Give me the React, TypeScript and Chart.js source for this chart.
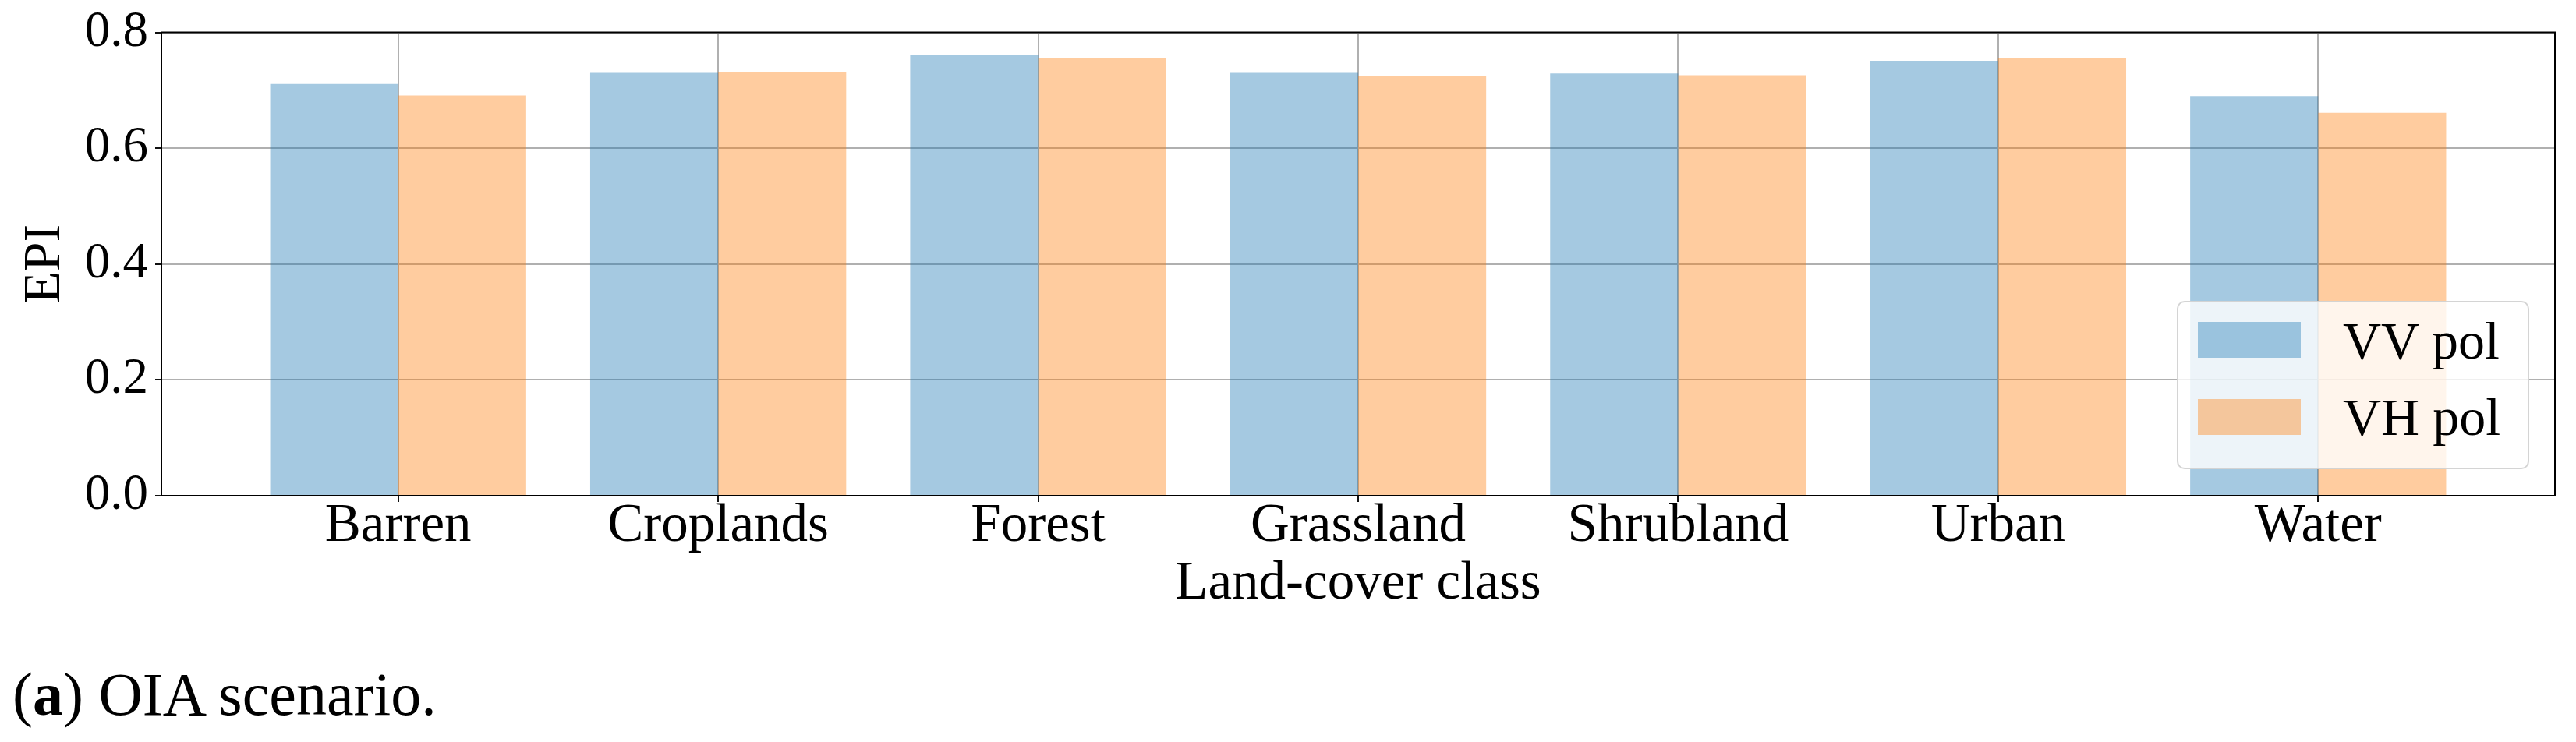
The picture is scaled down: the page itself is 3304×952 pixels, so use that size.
import React, { useEffect, useRef } from "react";
import { Chart, registerables } from "chart.js";

Chart.register(...registerables);

// ---- data ----
const categories = ["Barren", "Croplands", "Forest", "Grassland", "Shrubland", "Urban", "Water"];
const vvValues = [0.711, 0.730, 0.761, 0.730, 0.729, 0.751, 0.690];
const vhValues = [0.691, 0.731, 0.756, 0.725, 0.726, 0.755, 0.661];
const seriesLabels = ["VV pol", "VH pol"];
const yTickValues = [0.0, 0.2, 0.4, 0.6, 0.8];
const xAxisTitle = "Land-cover class";
const yAxisTitle = "EPI";
const captionLabel = "a";
const captionText = " OIA scenario.";

// ---- styles ----
const BLUE = "rgba(31,119,180,0.4)";
const ORANGE = "rgba(255,127,14,0.4)";
const seriesColors = [BLUE, ORANGE];
const FONT = "'Liberation Serif', 'Times New Roman', serif";
const CANVAS_W = 3304;
const CANVAS_H = 800;

export default function App() {
  const ref = useRef<HTMLCanvasElement | null>(null);

  useEffect(() => {
    if (!ref.current) return;
    const framePlugin = {
      id: "frame",
      afterDraw(chart: any) {
        const { ctx, chartArea: a } = chart;
        ctx.save();
        ctx.strokeStyle = "#000";
        ctx.lineWidth = 2;
        ctx.strokeRect(a.left, a.top, a.right - a.left, a.bottom - a.top);
        ctx.restore();
      },
    };

    const chart = new Chart(ref.current, {
      type: "bar",
      data: {
        datasets: [
          {
            label: seriesLabels[0],
            data: vvValues.map((y, i) => ({ x: i, y })),
            backgroundColor: BLUE,
            borderWidth: 0,
            categoryPercentage: 0.8,
            barPercentage: 1.0,
          },
          {
            label: seriesLabels[1],
            data: vhValues.map((y, i) => ({ x: i, y })),
            backgroundColor: ORANGE,
            borderWidth: 0,
            categoryPercentage: 0.8,
            barPercentage: 1.0,
          },
        ],
      },
      options: {
        responsive: false,
        animation: false,
        events: [],
        layout: { padding: { left: 0, right: 27, top: 38, bottom: 0 } },
        plugins: {
          legend: { display: false },
          tooltip: { enabled: false },
        },
        scales: {
          x: {
            type: "linear",
            offset: false,
            min: -0.74,
            max: 6.74,
            afterBuildTicks: (s: any) => {
              s.ticks = categories.map((_, i) => ({ value: i }));
            },
            afterFit: (s: any) => {
              s.height = CANVAS_H - 636;
            },
            ticks: {
              autoSkip: false,
              maxRotation: 0,
              includeBounds: false,
              padding: -3,
              color: "#000",
              font: { family: FONT, size: 69, lineHeight: 1 },
              callback: (v: any) => categories[Math.round(Number(v))] ?? "",
            },
            grid: {
              color: "#b0b0b0",
              lineWidth: 2,
              offset: false,
              drawTicks: true,
              tickLength: 8,
              tickColor: "#111",
              tickWidth: 2,
            },
            border: { display: false },
            title: {
              display: true,
              text: xAxisTitle,
              color: "#000",
              font: { family: FONT, size: 69, lineHeight: 1.2 },
              padding: { top: 0, bottom: 9 },
            },
          },
          y: {
            min: 0,
            max: 0.8,
            afterBuildTicks: (s: any) => {
              s.ticks = yTickValues.map((v) => ({ value: v }));
            },
            afterFit: (s: any) => {
              s.width = 207;
            },
            ticks: {
              padding: 9,
              color: "#000",
              font: { family: FONT, size: 65, lineHeight: 1 },
              callback: (v: any) => Number(v).toFixed(1),
            },
            grid: {
              color: "#b0b0b0",
              lineWidth: 2,
              drawTicks: true,
              tickLength: 8,
              tickColor: "#111",
              tickWidth: 2,
            },
            border: { display: false },
            title: {
              display: true,
              text: yAxisTitle,
              color: "#000",
              font: { family: FONT, size: 68, lineHeight: 1.2 },
              padding: { top: 17, bottom: 0 },
            },
          },
        },
      },
      plugins: [framePlugin],
    } as any);

    return () => chart.destroy();
  }, []);

  const legendTops = [413, 512];
  const textTops = [403, 501];

  return (
    <div
      style={{
        position: "absolute",
        left: 0,
        top: 0,
        width: CANVAS_W,
        height: 952,
        background: "#fff",
        overflow: "hidden",
      }}
    >
      <canvas
        ref={ref}
        width={CANVAS_W}
        height={CANVAS_H}
        style={{ position: "absolute", left: 0, top: 0, display: "block" }}
      />
      {/* legend */}
      <div
        style={{
          position: "absolute",
          left: 2792,
          top: 386,
          width: 452,
          height: 216,
          boxSizing: "border-box",
          border: "2px solid rgba(204,204,204,0.85)",
          borderRadius: 10,
          background: "rgba(255,255,255,0.8)",
        }}
      />
      {seriesLabels.map((lab, i) => (
        <React.Fragment key={lab}>
          <div
            style={{
              position: "absolute",
              left: 2819,
              top: legendTops[i],
              width: 132,
              height: 46,
              background: seriesColors[i],
            }}
          />
          <div
            style={{
              position: "absolute",
              left: 3005,
              top: textTops[i],
              fontFamily: FONT,
              fontSize: 68,
              lineHeight: "68px",
              color: "#000",
              whiteSpace: "nowrap",
            }}
          >
            {lab}
          </div>
        </React.Fragment>
      ))}
      {/* caption */}
      <div
        style={{
          position: "absolute",
          left: 16,
          top: 852,
          fontFamily: FONT,
          fontSize: 78,
          lineHeight: "78px",
          color: "#000",
          whiteSpace: "nowrap",
        }}
      >
        (<b>{captionLabel}</b>){captionText}
      </div>
    </div>
  );
}
